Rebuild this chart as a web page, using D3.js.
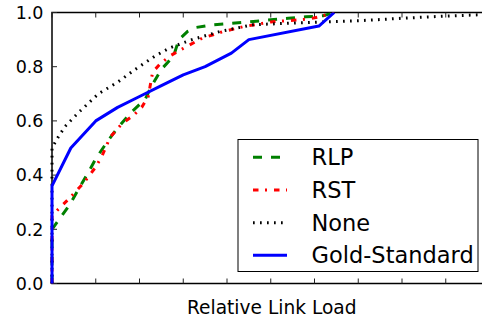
<!DOCTYPE html>
<html><head><meta charset="utf-8">
<script src="https://cdn.jsdelivr.net/npm/d3@7"></script>
<style>body{margin:0;background:#fff}svg{display:block}text{font-family:"DejaVu Sans",sans-serif}</style>
</head><body>
<script>
const seriesNames = ["RLP", "RST", "None", "Gold-Standard"];
const rlp = [[0,0],[0,0.20],[0.04,0.29],[0.083,0.41],[0.10,0.46],[0.125,0.52],[0.148,0.57],[0.18,0.63],[0.213,0.68],[0.228,0.73],[0.25,0.79],[0.278,0.84],[0.29,0.90],[0.31,0.93],[0.33,0.945],[0.37,0.955],[0.41,0.96],[0.45,0.965],[0.50,0.973],[0.54,0.979],[0.58,0.984],[0.62,0.988],[0.645,1.0]];
const rst = [[0,0],[0,0.25],[0.018,0.28],[0.037,0.31],[0.072,0.37],[0.10,0.43],[0.114,0.47],[0.133,0.54],[0.16,0.59],[0.186,0.62],[0.205,0.65],[0.22,0.69],[0.23,0.78],[0.247,0.81],[0.27,0.84],[0.297,0.865],[0.343,0.905],[0.392,0.93],[0.438,0.948],[0.50,0.965],[0.54,0.97],[0.587,0.976],[0.613,0.985],[0.645,1.0]];
const none = [[0,0],[0,0.50],[0.014,0.54],[0.03,0.58],[0.06,0.63],[0.106,0.70],[0.152,0.745],[0.19,0.79],[0.236,0.84],[0.27,0.87],[0.32,0.90],[0.384,0.93],[0.46,0.955],[0.568,0.962],[0.705,0.97],[0.803,0.979],[0.903,0.987],[1.0,0.993]];
const gold = [[0,0],[0,0.36],[0.043,0.50],[0.10,0.60],[0.15,0.65],[0.20,0.69],[0.25,0.73],[0.30,0.77],[0.35,0.80],[0.41,0.85],[0.45,0.90],[0.61,0.95],[0.645,1.0]];
const xTicks = [0,0.1,0.2,0.3,0.4,0.5,0.6,0.7,0.8,0.9,1.0];
const yTicks = [0,0.2,0.4,0.6,0.8,1.0];
const xLabel = "Relative Link Load";

const W = 482, H = 320;
const L = 52, R = 489.5, T = 12.5, B = 283.5;
const x = d3.scaleLinear().domain([0,1]).range([L,R]);
const y = d3.scaleLinear().domain([0,1]).range([B,T]);

const svg = d3.select("body").append("svg").attr("width",W).attr("height",H);
svg.append("defs").append("clipPath").attr("id","clip")
  .append("rect").attr("x",L-3).attr("y",T).attr("width",R-L+3).attr("height",B-T+2);

// frame
svg.append("rect").attr("x",L).attr("y",T).attr("width",R-L).attr("height",B-T)
  .attr("fill","none").attr("stroke","#000").attr("stroke-width",1.5);

// ticks (inward)
const tl = 5;
const tg = svg.append("g").attr("stroke","#222").attr("stroke-width",1);
xTicks.forEach(v=>{
  tg.append("line").attr("x1",x(v)).attr("x2",x(v)).attr("y1",B).attr("y2",B-tl);
  tg.append("line").attr("x1",x(v)).attr("x2",x(v)).attr("y1",T).attr("y2",T+tl);
});
yTicks.forEach(v=>{
  tg.append("line").attr("x1",L).attr("x2",L+tl).attr("y1",y(v)).attr("y2",y(v));
});
svg.append("g").selectAll("text").data(yTicks).join("text")
  .attr("x",L-8.5).attr("y",d=>y(d)).attr("dy","0.36em")
  .attr("text-anchor","end").attr("font-size",17.5).attr("fill","#000")
  .text(d=>d3.format(".1f")(d));

svg.append("text").attr("x",(L+R)/2+1).attr("y",314).attr("text-anchor","middle")
  .attr("font-size",18.6).text(xLabel);

const styles = [
  {data:rlp, color:"#008000", dash:"9,9", w:3},
  {data:rst, color:"#ff0000", dash:"5.5,6.5,2,7", w:3},
  {data:none, color:"#000000", dash:"1.7,5.3", w:3},
  {data:gold, color:"#0000ff", dash:null, w:3}
];
const line = d3.line().x(d=>x(d[0])).y(d=>y(d[1]));
const lg = svg.append("g").attr("clip-path","url(#clip)");
styles.forEach(s=>{
  lg.append("path").attr("d",line(s.data)).attr("fill","none")
    .attr("stroke",s.color).attr("stroke-width",s.w)
    .attr("stroke-dasharray",s.dash).attr("stroke-linejoin","round");
});

// legend
const leg = svg.append("g");
leg.append("rect").attr("x",238).attr("y",139.5).attr("width",240).attr("height",132)
  .attr("fill","#fff").attr("stroke","#000").attr("stroke-width",1);
const ly = [157.3,190,222.7,255.3];
styles.forEach((s,i)=>{
  leg.append("line").attr("x1",253).attr("x2",287).attr("y1",ly[i]).attr("y2",ly[i])
    .attr("stroke",s.color).attr("stroke-width",s.w).attr("stroke-dasharray",s.dash);
  leg.append("text").attr("x",311.5).attr("y",ly[i]).attr("dy","0.36em")
    .attr("font-size",22.5).text(seriesNames[i]);
});
</script>
</body></html>
